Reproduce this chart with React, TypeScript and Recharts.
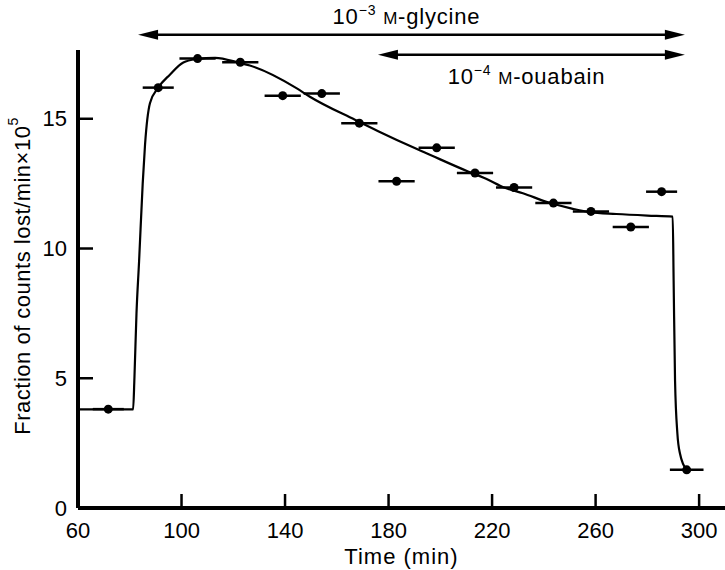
import React from "react";
import {
  ComposedChart,
  Line,
  Scatter,
  ErrorBar,
  XAxis,
  YAxis,
  ReferenceLine,
} from "recharts";

// measured efflux points (min, fraction x 1e5) and half-width of collection period
const pointTimes = [71.7, 91.0, 106.2, 122.7, 139.1, 154.2, 168.7, 183.1, 198.6, 213.4, 228.5, 243.7, 258.2, 273.6, 285.5, 295.2];
const pointValues = [3.81, 16.2, 17.32, 17.18, 15.89, 15.97, 14.83, 12.59, 13.88, 12.91, 12.35, 11.75, 11.43, 10.83, 12.19, 1.47];
const pointSpread = [6, 6, 7, 7, 7, 7, 7, 7, 7, 7, 7, 7, 7, 7, 6, 6.5];

// hand-drawn fitted curve
const curveTimes = [60, 81.3, 81.8, 82.6, 83.6, 85.0, 85.9, 87.8, 91.0, 95.5, 100.7, 106, 113, 122.5, 126.4, 144.4, 149.6, 167, 176, 190.1, 194, 210.7, 217, 225.2, 231.9, 241, 251.2, 257.7, 268, 280, 289.8, 290.15, 290.7, 291.6, 292.6, 295.2];
const curveValues = [3.8, 3.8, 5.0, 7.5, 9.5, 12.5, 14.0, 15.6, 16.2, 16.7, 17.17, 17.3, 17.35, 17.15, 17.05, 16.18, 15.85, 14.96, 14.52, 13.87, 13.7, 12.97, 12.72, 12.33, 12.13, 11.8, 11.53, 11.4, 11.33, 11.27, 11.23, 8.77, 4.9, 2.87, 2.1, 1.46];

const xTicks = [60, 100, 140, 180, 220, 260, 300];
const yTicks = [0, 5, 10, 15];

// treatment periods: [start, end, level]
const glycinePeriod = [83.2, 294.5, 18.24];
const ouabainPeriod = [175.9, 294.5, 17.47];

const FONT = "'Liberation Sans', Arial, sans-serif";

const points = pointTimes.map((t, i) => ({ x: t, y: pointValues[i], ex: pointSpread[i] }));
const curve = curveTimes.map((t, i) => ({ x: t, y: curveValues[i] }));

const YTick = (props: any) => {
  const { x, y, payload } = props;
  const axisX = x + 8;
  return (
    <g>
      <line x1={axisX} y1={y} x2={axisX + 15} y2={y} stroke="#000" strokeWidth={2.5} />
      <text x={x - 3} y={y} textAnchor="end" dominantBaseline="central" fontSize={22} fontFamily={FONT} fill="#000">
        {payload.value}
      </text>
    </g>
  );
};

const XTick = (props: any) => {
  const { x, y, payload } = props;
  const axisY = y - 6;
  return (
    <g>
      <line x1={x} y1={axisY} x2={x} y2={axisY - 14} stroke="#000" strokeWidth={2.5} />
      <text x={x} y={axisY + 30} textAnchor="middle" fontSize={22} fontFamily={FONT} fill="#000">
        {payload.value}
      </text>
    </g>
  );
};

const arrowShape = (exp: string, drug: string, above: boolean) => (props: any) => {
  const { x1, y1, x2, y2 } = props;
  const cx = (x1 + x2) / 2;
  const ty = above ? y1 - 11 : y1 + 29;
  return (
    <g>
      <line x1={x1 + 8} y1={y1} x2={x2 - 8} y2={y2} stroke="#000" strokeWidth={2.5} />
      <polygon points={`${x1},${y1} ${x1 + 20},${y1 - 5} ${x1 + 20},${y1 + 5}`} fill="#000" />
      <polygon points={`${x2},${y2} ${x2 - 20},${y2 - 5} ${x2 - 20},${y2 + 5}`} fill="#000" />
      <text x={cx - 5} y={ty} textAnchor="middle" fontSize={22} letterSpacing={0.8} fontFamily={FONT} fill="#000">
        10
        <tspan fontSize={14} dy={-9}>{exp}</tspan>
        <tspan fontSize={22} dy={9}>{" "}</tspan>
        <tspan fontSize={17}>M</tspan>
        <tspan fontSize={22}>{drug}</tspan>
      </text>
    </g>
  );
};

export default function App() {
  return (
    <div style={{ width: 725, height: 570, background: "#fff" }}>
      <style>{`body{margin:0}`}</style>
      <ComposedChart width={725} height={570} data={curve} margin={{ top: 50, right: 0, bottom: 0, left: 0 }}>
        <XAxis
          dataKey="x"
          type="number"
          domain={[60, 310]}
          ticks={xTicks}
          allowDataOverflow
          height={62}
          tickSize={0}
          tickMargin={6}
          tickLine={false}
          axisLine={{ stroke: "#000", strokeWidth: 4 }}
          tick={<XTick />}
          label={{
            value: "Time (min)",
            position: "insideBottom",
            offset: 6,
            style: { fontSize: 22, letterSpacing: 1, fontFamily: FONT, fill: "#000" },
          }}
        />
        <YAxis
          dataKey="y"
          type="number"
          domain={[0, 17.65]}
          ticks={yTicks}
          allowDataOverflow
          width={78}
          tickSize={0}
          tickMargin={8}
          tickLine={false}
          axisLine={{ stroke: "#000", strokeWidth: 4 }}
          tick={<YTick />}
          label={{
            content: (p: any) => {
              const vb = p.viewBox || { x: 0, y: 50, width: 78, height: 458 };
              const cx = vb.x + 22;
              const cy = vb.y + vb.height / 2 - 3;
              return (
                <text
                  transform={`translate(${cx},${cy}) rotate(-90)`}
                  textAnchor="middle"
                  dominantBaseline="central"
                  fontSize={22}
                  letterSpacing={0.5}
                  fontFamily={FONT}
                  fill="#000"
                >
                  Fraction of counts lost/min×10
                  <tspan fontSize={14} dy={-9}>5</tspan>
                </text>
              );
            },
          }}
        />
        <ReferenceLine
          segment={[{ x: glycinePeriod[0], y: glycinePeriod[2] }, { x: glycinePeriod[1], y: glycinePeriod[2] }]}
          ifOverflow="visible"
          shape={arrowShape("−3", "-glycine", true)}
        />
        <ReferenceLine
          segment={[{ x: ouabainPeriod[0], y: ouabainPeriod[2] }, { x: ouabainPeriod[1], y: ouabainPeriod[2] }]}
          ifOverflow="visible"
          shape={arrowShape("−4", "-ouabain", false)}
        />
        <Line
          data={curve}
          dataKey="y"
          type="monotone"
          stroke="#000"
          strokeWidth={2.2}
          dot={false}
          activeDot={false}
          isAnimationActive={false}
        />
        <Scatter
          data={points}
          dataKey="y"
          fill="#000"
          isAnimationActive={false}
          shape={(p: any) => <circle cx={p.cx} cy={p.cy} r={4.5} fill="#000" />}
        >
          <ErrorBar dataKey="ex" direction="x" width={0} stroke="#000" strokeWidth={2.5} />
        </Scatter>
      </ComposedChart>
    </div>
  );
}
